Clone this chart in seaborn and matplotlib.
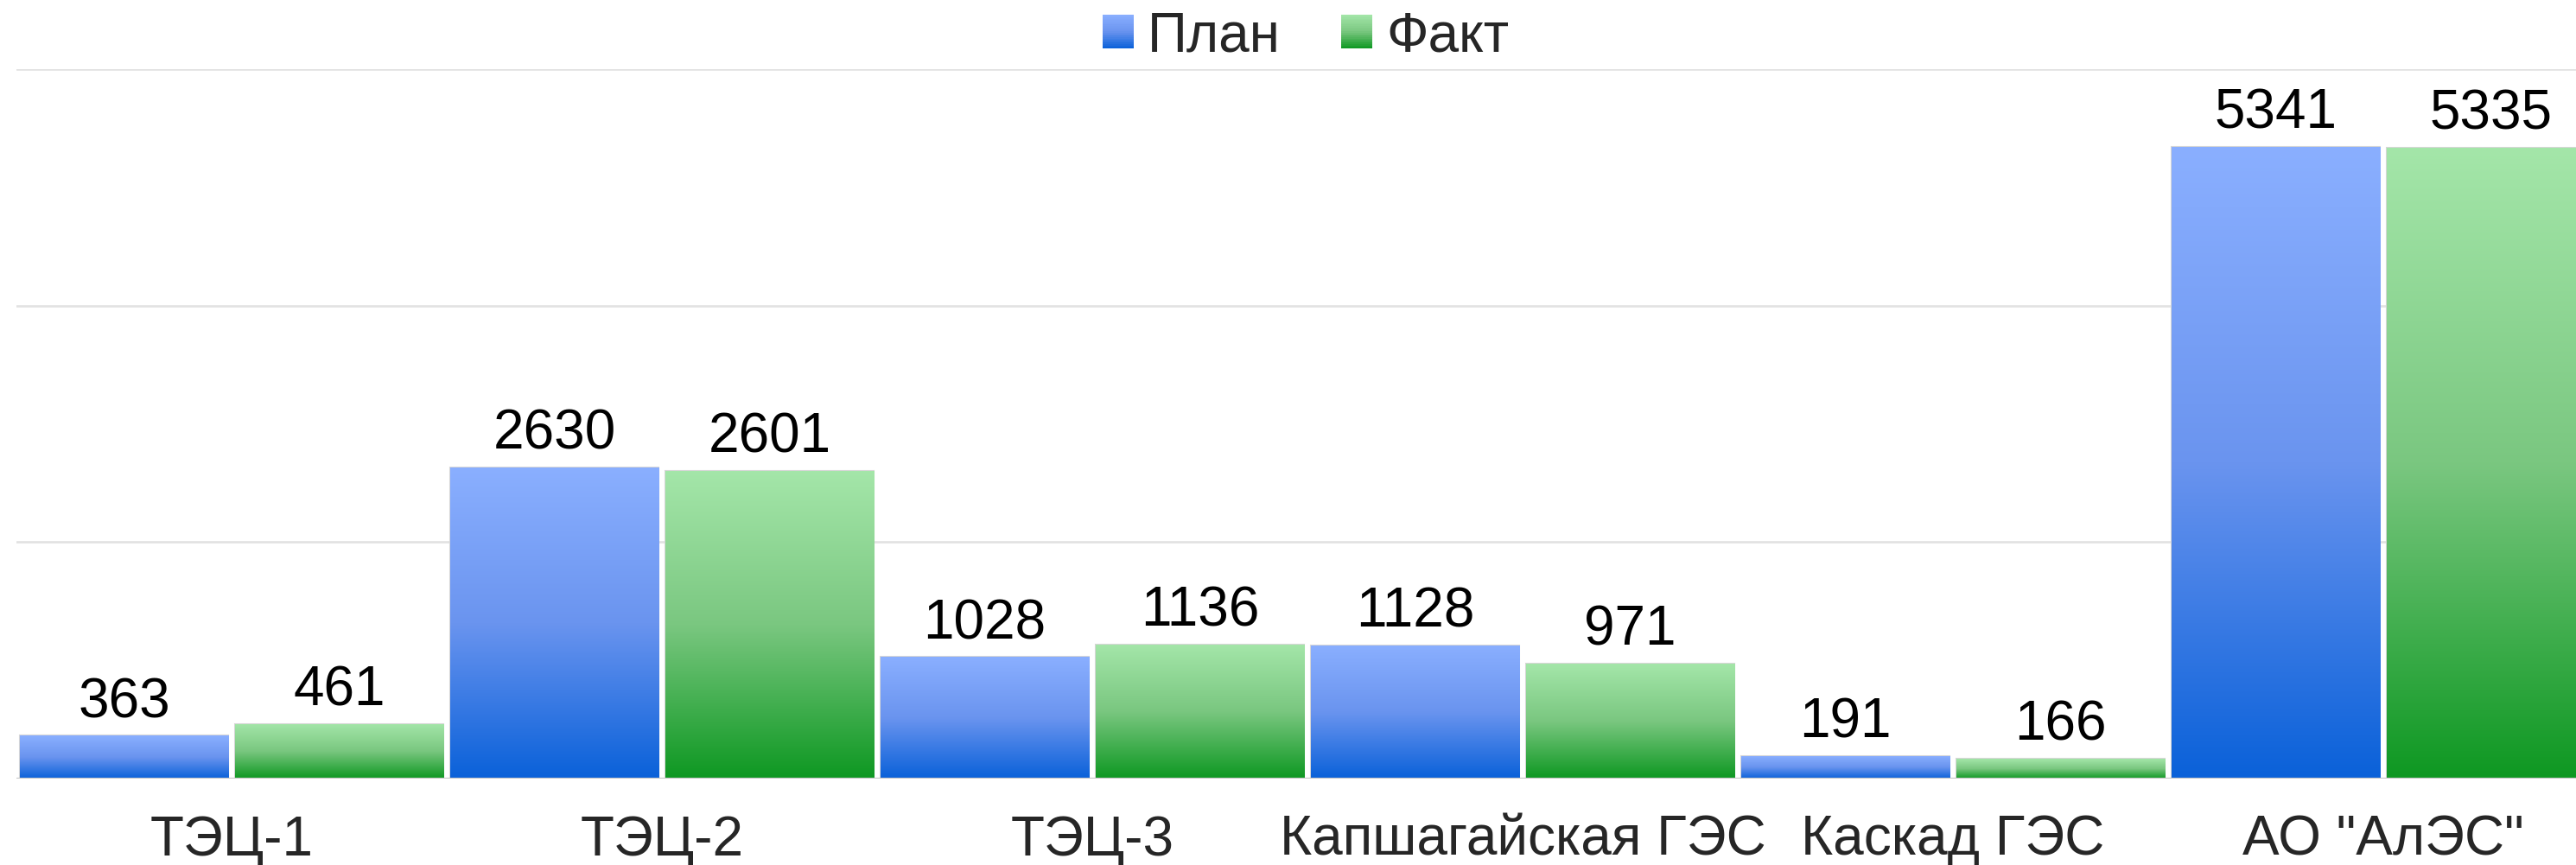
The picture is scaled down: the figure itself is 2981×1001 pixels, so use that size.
import numpy as np
import pandas as pd
import matplotlib
matplotlib.use("Agg")
import matplotlib.pyplot as plt
import matplotlib.patches as mpatches
from matplotlib.colors import LinearSegmentedColormap
from matplotlib.legend_handler import HandlerBase
import seaborn as sns

# ── Data ──────────────────────────────────────────────────────────────────────
CATEGORIES = ["ТЭЦ-1", "ТЭЦ-2", "ТЭЦ-3", "Капшагайская ГЭС", "Каскад ГЭС", 'АО "АлЭС"']
PLAN = [363, 2630, 1028, 1128, 191, 5341]
FACT = [461, 2601, 1136, 971, 166, 5335]
SERIES = ["План", "Факт"]

# gradient stops: top (light) → bottom (dark)
GRADIENTS = {
    "План": ["#8AAFFF", "#6A94EF", "#0A61D9"],
    "Факт": ["#A4E6A9", "#7AC780", "#0E9822"],
}
CMAPS = {k: LinearSegmentedColormap.from_list(k, v) for k, v in GRADIENTS.items()}

df = pd.DataFrame({
    "station": CATEGORIES * 2,
    "series": [SERIES[0]] * len(PLAN) + [SERIES[1]] * len(FACT),
    "value": PLAN + FACT,
})

# ── Plot ──────────────────────────────────────────────────────────────────────
sns.set_style("white")
plt.rcParams["font.family"] = ["Liberation Sans", "DejaVu Sans"]
FS = 46

fig = plt.figure(figsize=(29.81, 10.01), dpi=100)
ax = fig.add_axes([19 / 2981, 0.0999, 1 - 19 / 2981, 0.8201])

sns.barplot(
    data=df, x="station", y="value", hue="series",
    palette={k: v[1] for k, v in GRADIENTS.items()},
    width=1.0, gap=0.03, legend=False, ax=ax,
    edgecolor="#d6d6d6", linewidth=1.5,
)

# gradient fill clipped to each bar
grad = np.linspace(0, 1, 256).reshape(-1, 1)
for name, cont in zip(SERIES, ax.containers):
    for bar in cont:
        x0, w, h = bar.get_x(), bar.get_width(), bar.get_height()
        im = ax.imshow(grad, extent=[x0, x0 + w, 0, h], aspect="auto",
                       cmap=CMAPS[name], origin="upper", zorder=bar.get_zorder() + 0.1,
                       interpolation="bilinear")
        im.set_clip_path(bar)
    ax.bar_label(cont, labels=[str(int(b.get_height())) for b in cont],
                 padding=6, fontsize=FS, color="black")

ax.set_xlim(-0.5, -0.5 + (2981 - 19) / 498)
ax.set_ylim(0, 6000)
ax.set_yticks([0, 2000, 4000, 6000])
ax.set_yticklabels([])
ax.yaxis.grid(True, color="#e2e2e2", linewidth=1.9)
ax.set_axisbelow(True)
ax.axhline(0, color="#c6c6c6", linewidth=2.3, zorder=5)
for s in ax.spines.values():
    s.set_visible(False)
ax.tick_params(axis="x", length=0, pad=30, labelsize=FS)
ax.tick_params(axis="y", length=0)
ax.set_xlabel("")
ax.set_ylabel("")


# ── Legend with gradient squares ─────────────────────────────────────────────
class GradientSquare(HandlerBase):
    def __init__(self, cmap):
        super().__init__()
        self.cmap = cmap

    def create_artists(self, legend, orig_handle, xdescent, ydescent,
                       width, height, fontsize, trans):
        n = 24
        arts = []
        for i in range(n):
            r = mpatches.Rectangle((-xdescent, -ydescent + height * i / n),
                                   width, height / n + 0.01,
                                   facecolor=self.cmap(1 - (i + 0.5) / n),
                                   edgecolor="none", transform=trans)
            arts.append(r)
        return arts


handles = [mpatches.Patch(label=s) for s in SERIES]
fig.legend(
    handles=handles, labels=SERIES, loc="center", bbox_to_anchor=(0.507, 0.958),
    ncol=2, frameon=False, fontsize=FS,
    handlelength=0.56, handleheight=0.56, handletextpad=0.25, columnspacing=1.1,
    handler_map={h: GradientSquare(CMAPS[s]) for h, s in zip(handles, SERIES)},
)

fig.savefig("out.png", dpi=100)
